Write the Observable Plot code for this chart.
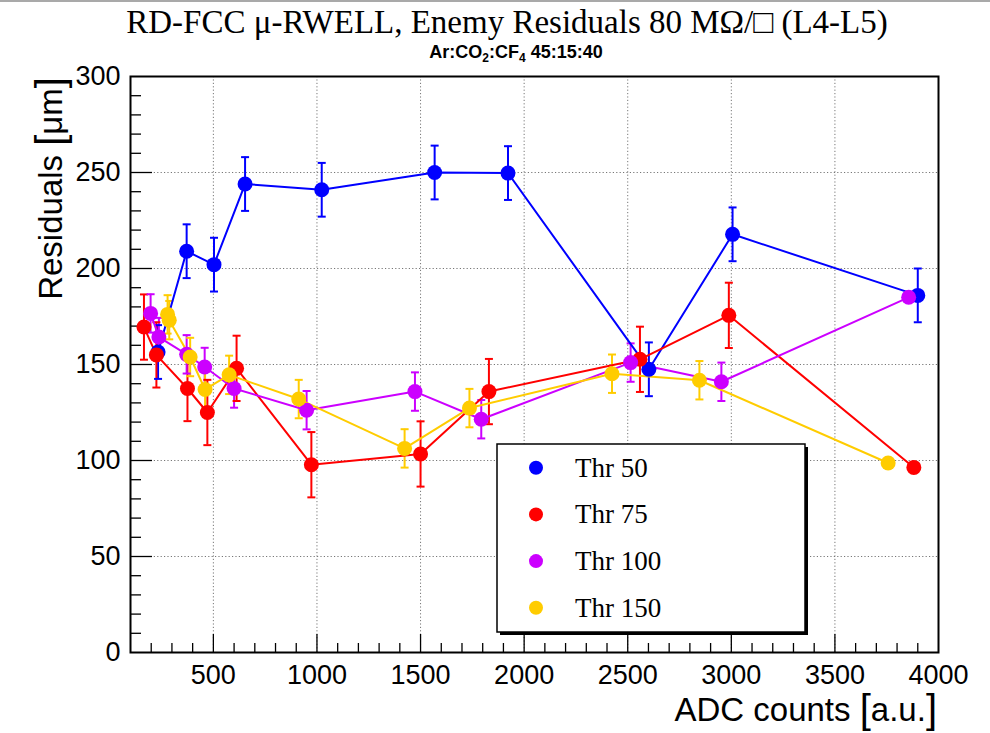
<!DOCTYPE html>
<html>
<head>
<meta charset="utf-8">
<script src="https://cdn.jsdelivr.net/npm/d3@7"></script>
<script src="https://cdn.jsdelivr.net/npm/@observablehq/plot@0.6"></script>
<style>
  body { margin: 0; background: #fff; }
  #wrap { position: relative; width: 990px; height: 733px; overflow: hidden; background: #fff; }
  #wrap > svg { position: absolute; left: 0; top: 0; }
  #topline { position: absolute; left: 0; top: 0; width: 990px; height: 2px; background: #a9a9a9; z-index: 5; }
</style>
</head>
<body>
<div id="wrap"><div id="topline"></div></div>
<script>
// ---------- data ----------
const seriesNames = ["Thr 50", "Thr 75", "Thr 100", "Thr 150"];
const seriesColors = ["#0000ff", "#ff0000", "#cc00ff", "#ffcc00"];

const thr50X = [233, 371, 503, 653, 1023, 1568, 1922, 2602, 3006, 3900];
const thr50Y = [156.5, 209, 202, 244, 241, 250, 249.7, 147.5, 217.8, 186];
const thr50E = [14, 14, 14, 14, 14, 14, 14, 14, 14, 14];

const thr75X = [165, 225, 375, 471, 612, 973, 1500, 1830, 2559, 2988, 3881];
const thr75Y = [169.5, 155, 137.5, 125, 148, 97.8, 103.4, 135.9, 152.7, 175.6, 96.4];
const thr75E = [17, 17, 17, 17, 17, 17, 17, 17, 17, 17, 0];

const thr100X = [197, 237, 371, 458, 600, 950, 1473, 1793, 2514, 2952, 3856];
const thr100Y = [176.6, 164.3, 155.3, 148.7, 137.5, 126.2, 135.9, 121.5, 151, 141, 185];
const thr100E = [10, 10, 10, 10, 10, 10, 10, 10, 10, 10, 0];

const thr150X = [279, 287, 388, 460, 576, 912, 1423, 1736, 2424, 2846, 3757];
const thr150Y = [176.1, 173.1, 153.9, 137, 144.6, 132, 106.3, 127.3, 145.2, 141.8, 98.7];
const thr150E = [10, 10, 10, 10, 10, 10, 10, 10, 10, 10, 0];

const xTickLabels = [500, 1000, 1500, 2000, 2500, 3000, 3500, 4000];
const yTickLabels = [0, 50, 100, 150, 200, 250, 300];
const xGridValues = [500, 1000, 1500, 2000, 2500, 3000, 3500];
const yGridValues = [50, 100, 150, 200, 250];

const titleText = "RD-FCC \u03bc-RWELL, Enemy Residuals 80 M\u03a9/\u25a1 (L4-L5)";
const xTitle = "ADC counts";
const xUnit = "a.u.";
const yTitle = "Residuals";
const yUnit = "\u03bcm";

// ---------- build table ----------
const seriesX = [thr50X, thr75X, thr100X, thr150X];
const seriesY = [thr50Y, thr75Y, thr100Y, thr150Y];
const seriesE = [thr50E, thr75E, thr100E, thr150E];
const points = [];
seriesNames.forEach((name, s) => {
  seriesX[s].forEach((x, i) => points.push({series: name, x, y: seriesY[s][i], e: seriesE[s][i]}));
});
const errPts = points.filter(d => d.e > 0);
const caps = errPts.flatMap(d => [{series: d.series, x: d.x, y: d.y - d.e}, {series: d.series, x: d.x, y: d.y + d.e}]);

const xMinor = d3.range(200, 4000, 100).filter(v => v % 500 !== 0);
const yMinor = d3.range(10, 300, 10).filter(v => v % 50 !== 0);

const W = 990, H = 733;
const mL = 130, mR = 52, mT = 76, mB = 81;
const frameW = W - mL - mR, frameH = H - mT - mB;

const capSymbol = {
  draw(context, size) {
    const w = Math.sqrt(size / Math.PI);
    context.moveTo(-w, 0);
    context.lineTo(w, 0);
  }
};

const chart = Plot.plot({
  width: W, height: H,
  marginLeft: mL, marginRight: mR, marginTop: mT, marginBottom: mB,
  x: {domain: [100, 4000]},
  y: {domain: [0, 300]},
  color: {domain: seriesNames, range: seriesColors},
  style: {fontFamily: "'Liberation Sans', Arial, sans-serif", fontSize: "27px", color: "#000", background: "transparent", overflow: "visible"},
  marks: [
    Plot.gridX({ticks: xGridValues, stroke: "#777", strokeOpacity: 1, strokeWidth: 1, strokeDasharray: "1.2,2.2"}),
    Plot.gridY({ticks: yGridValues, stroke: "#777", strokeOpacity: 1, strokeWidth: 1, strokeDasharray: "1.2,2.2"}),
    Plot.tickX(xMinor, {x: d => d, insetTop: frameH - 9, stroke: "#000", strokeWidth: 1.3}),
    Plot.tickX(xGridValues, {x: d => d, insetTop: frameH - 18, stroke: "#000", strokeWidth: 1.3}),
    Plot.tickY(yMinor, {y: d => d, insetRight: frameW - 11, stroke: "#000", strokeWidth: 1.3}),
    Plot.tickY(yGridValues, {y: d => d, insetRight: frameW - 22, stroke: "#000", strokeWidth: 1.3}),
    Plot.axisX({ticks: xTickLabels, tickFormat: d => String(d), tickSize: 0, tickPadding: 12, label: null, fontSize: 27}),
    Plot.axisY({ticks: yTickLabels, tickFormat: d => String(d), tickSize: 0, tickPadding: 10, label: null, fontSize: 27}),
    Plot.ruleX(errPts, {x: "x", y1: d => d.y - d.e, y2: d => d.y + d.e, stroke: "series", strokeWidth: 2}),
    Plot.dot(caps, {x: "x", y: "y", symbol: capSymbol, r: 4, stroke: "series", fill: "none", strokeWidth: 2}),
    Plot.line(points, {x: "x", y: "y", z: "series", stroke: "series", strokeWidth: 2}),
    Plot.dot(points, {x: "x", y: "y", fill: "series", r: 7.5}),
    Plot.frame({stroke: "#000", strokeWidth: 2})
  ]
});
document.getElementById("wrap").appendChild(chart);

// ---------- overlay text & legend ----------
const ov = d3.select("#wrap").append("svg")
  .attr("width", W).attr("height", H)
  .style("pointer-events", "none");

ov.append("text")
  .attr("x", 507).attr("y", 33)
  .attr("text-anchor", "middle")
  .attr("font-family", "'Liberation Serif', 'Times New Roman', serif")
  .attr("font-size", 33)
  .text(titleText);

const sub = ov.append("text")
  .attr("x", 516).attr("y", 58)
  .attr("text-anchor", "middle")
  .attr("font-family", "'Liberation Sans', Arial, sans-serif")
  .attr("font-weight", "bold")
  .attr("font-size", 18);
sub.append("tspan").text("Ar:CO");
sub.append("tspan").attr("font-size", 12).attr("dy", 4).text("2");
sub.append("tspan").attr("dy", -4).text(":CF");
sub.append("tspan").attr("font-size", 12).attr("dy", 4).text("4");
sub.append("tspan").attr("dy", -4).text(" 45:15:40");

function axisTitle(g, main, unit) {
  g.append("tspan").text(main + " ");
  g.append("tspan").attr("font-size", 40).attr("dy", 2).text("[");
  g.append("tspan").attr("dy", -2).text(unit);
  g.append("tspan").attr("font-size", 40).attr("dy", 2).text("]");
}
const xt = ov.append("text")
  .attr("x", 937).attr("y", 721)
  .attr("text-anchor", "end")
  .attr("font-family", "'Liberation Sans', Arial, sans-serif")
  .attr("font-size", 33);
axisTitle(xt, xTitle, xUnit);

const yt = ov.append("text")
  .attr("transform", "translate(62,77) rotate(-90)")
  .attr("text-anchor", "end")
  .attr("font-family", "'Liberation Sans', Arial, sans-serif")
  .attr("font-size", 33);
axisTitle(yt, yTitle, yUnit);

// legend
const lg = ov.append("g");
lg.append("rect").attr("x", 500).attr("y", 447).attr("width", 308).attr("height", 188).attr("fill", "#000");
lg.append("rect").attr("x", 497).attr("y", 444).attr("width", 308).attr("height", 188)
  .attr("fill", "#fff").attr("stroke", "#000").attr("stroke-width", 1.5);
seriesNames.forEach((name, i) => {
  const cy = 467.7 + i * 46.7;
  lg.append("circle").attr("cx", 536).attr("cy", cy).attr("r", 7).attr("fill", seriesColors[i]);
  lg.append("text").attr("x", 575).attr("y", cy + 9)
    .attr("font-family", "'Liberation Serif', 'Times New Roman', serif")
    .attr("font-size", 27).text(name);
});
</script>
</body>
</html>
